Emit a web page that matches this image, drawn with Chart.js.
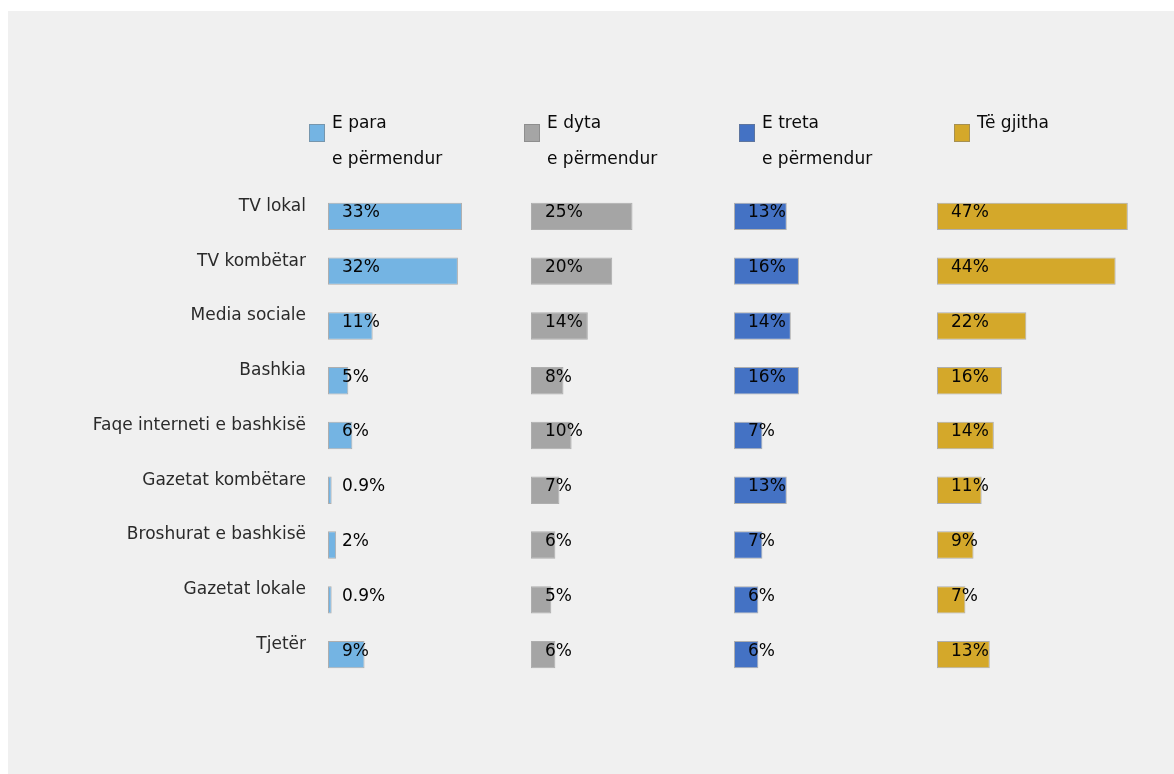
<!DOCTYPE html>
<html>
<head>
<meta charset="utf-8">
<title>Burimet e informacionit</title>
<script src="https://cdn.jsdelivr.net/npm/chart.js@4.4.1/dist/chart.umd.min.js"></script>
<style>
  html, body { margin: 0; padding: 0; background: #ffffff; }
  canvas { display: block; }
</style>
</head>
<body>
<canvas id="chart" width="1174" height="774"></canvas>
<script>
// Information sources, share of mentions per order of mention
const categories = [
  'TV lokal',
  'TV kombëtar',
  'Media sociale',
  'Bashkia',
  'Faqe interneti e bashkisë',
  'Gazetat kombëtare',
  'Broshurat e bashkisë',
  'Gazetat lokale',
  'Tjetër'
];
const seriesNames = [
  'E para\ne përmendur',
  'E dyta\ne përmendur',
  'E treta\ne përmendur',
  'Të gjitha'
];
const firstMention  = [33, 32, 11, 5, 6, 0.9, 2, 0.9, 9];
const secondMention = [25, 20, 14, 8, 10, 7, 6, 5, 6];
const thirdMention  = [13, 16, 14, 16, 7, 13, 7, 6, 6];
const allMentions   = [47, 44, 22, 16, 14, 11, 9, 7, 13];

const seriesValues = [firstMention, secondMention, thirdMention, allMentions];
const seriesColors = ['#74b4e3', '#a5a5a5', '#4472c4', '#d4a82a'];

const FONT = '"DejaVu Sans", Verdana, sans-serif';

// one x scale per panel, laid side by side in the same bottom stack
const scales = {
  y: {
    type: 'category',
    position: 'left',
    grid: { display: false, drawTicks: false },
    border: { display: false },
    ticks: {
      color: '#2a2a2a',
      font: { family: FONT, size: 17 },
      padding: 22,
      labelOffset: -10
    },
    afterFit: (s) => { s.width = 328; }
  }
};
seriesValues.forEach((_, i) => {
  scales['x' + i] = {
    type: 'linear',
    position: 'bottom',
    stack: 'panels',
    stackWeight: 1,
    min: 0,
    max: 50,
    grid: { display: false, drawTicks: false },
    border: { display: false },
    ticks: { display: false },
    afterFit: (s) => { s.height = 0; }
  };
});

const datasets = seriesValues.map((vals, i) => ({
  label: seriesNames[i],
  data: vals,
  xAxisID: 'x' + i,
  yAxisID: 'y',
  grouped: false,
  backgroundColor: seriesColors[i],
  borderColor: 'rgba(120,120,120,0.55)',
  borderWidth: 1,
  borderSkipped: false,
  categoryPercentage: 1,
  barPercentage: 0.5
}));

const backdrop = {
  id: 'backdrop',
  beforeDraw(chart) {
    const ctx = chart.ctx;
    ctx.save();
    ctx.fillStyle = '#ffffff';
    ctx.fillRect(0, 0, chart.width, chart.height);
    ctx.fillStyle = '#f0f0f0';
    ctx.fillRect(8, 11, chart.width - 8, chart.height - 11);
    ctx.restore();
  }
};

// value text placed just inside the start of each bar
const valueLabels = {
  id: 'valueLabels',
  afterDatasetsDraw(chart) {
    const ctx = chart.ctx;
    ctx.save();
    ctx.font = '17px ' + FONT;
    ctx.fillStyle = '#050505';
    ctx.textAlign = 'left';
    ctx.textBaseline = 'middle';
    chart.data.datasets.forEach((ds, di) => {
      const meta = chart.getDatasetMeta(di);
      meta.data.forEach((bar, j) => {
        const v = ds.data[j];
        ctx.fillText(String(v) + '%', bar.base + 14, bar.y - 3.5);
      });
    });
    ctx.restore();
  }
};

// panel headers: colour key plus two-line series name
const panelLegend = {
  id: 'panelLegend',
  afterDraw(chart) {
    const ctx = chart.ctx;
    ctx.save();
    ctx.font = '17px ' + FONT;
    ctx.textAlign = 'left';
    ctx.textBaseline = 'middle';
    chart.data.datasets.forEach((ds, i) => {
      const x = 309 + i * 215;
      ctx.fillStyle = ds.backgroundColor;
      ctx.fillRect(x, 124, 16, 18);
      ctx.strokeStyle = 'rgba(120,120,120,0.5)';
      ctx.lineWidth = 1;
      ctx.strokeRect(x + 0.5, 124.5, 15, 17);
      ctx.fillStyle = '#0a0a0a';
      ds.label.split('\n').forEach((line, k) => {
        ctx.fillText(line, x + 23, 124 + k * 36);
      });
    });
    ctx.restore();
  }
};

new Chart(document.getElementById('chart'), {
  type: 'bar',
  data: { labels: categories, datasets },
  options: {
    indexAxis: 'y',
    responsive: false,
    animation: false,
    devicePixelRatio: 1,
    layout: { padding: { left: 0, right: 34, top: 189, bottom: 92 } },
    plugins: {
      legend: { display: false },
      tooltip: { enabled: false },
      title: { display: false }
    },
    scales
  },
  plugins: [backdrop, valueLabels, panelLegend]
});
</script>
</body>
</html>
